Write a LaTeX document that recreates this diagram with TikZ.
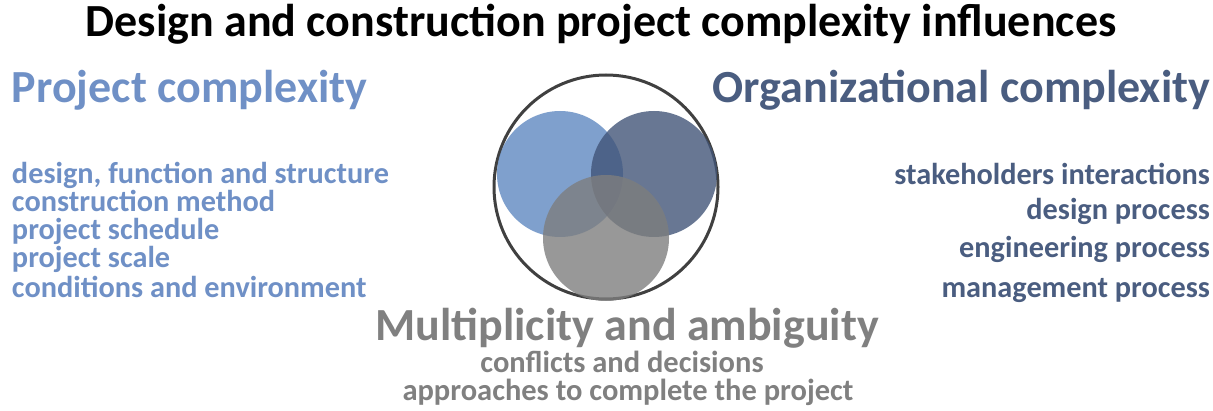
\documentclass[tikz,border=0pt]{standalone}
\usepackage{fontspec}
\setmainfont{Carlito}
\definecolor{pblue}{HTML}{6F90C6}
\definecolor{odark}{HTML}{4A5D80}
\definecolor{mgray}{HTML}{808080}
\definecolor{cblue}{HTML}{5F88C0}
\definecolor{cdark}{HTML}{425578}
\definecolor{cgray}{HTML}{7E7E7E}
\begin{document}
\begin{tikzpicture}[x=1pt,y=1pt,
  every node/.style={inner sep=0pt,outer sep=0pt},
  titletxt/.style={font=\fontsize{46}{48}\selectfont\bfseries},
  headtxt/.style={font=\fontsize{46}{48}\selectfont\bfseries},
  itemtxt/.style={font=\fontsize{30.3}{32}\selectfont\bfseries},
  subtxt/.style={font=\fontsize{30.5}{32}\selectfont\bfseries},
  venn/.style={circle,minimum size=126pt,fill opacity=0.8,draw=none}]
\useasboundingbox (0,0) rectangle (1213,410);
% title
\node[titletxt,anchor=base] (title) at (601,373) {Design and construction project complexity influences};
% outer circle and venn
\node[circle,minimum size=224pt,draw=black!75,line width=3pt] (outer) at (606,223) {};
\node[venn,fill=cblue] (vb) at (560,236) {};
\node[venn,fill=cdark] (vd) at (654,236) {};
\node[venn,fill=cgray] (vg) at (606,172) {};
% left
\node[headtxt,text=pblue,anchor=base west] (ph) at (12,307) {Project complexity};
\begin{scope}[every node/.append style={itemtxt,text=pblue,anchor=base west}]
\node (p1) at (12,226) {design, function and structure};
\node (p2) at (12,198) {construction method};
\node (p3) at (12,170) {project schedule};
\node (p4) at (12,142) {project scale};
\node (p5) at (12,113) {conditions and environment};
\end{scope}
% right
\node[headtxt,text=odark,anchor=base east] (oh) at (1210,307) {Organizational complexity};
\begin{scope}[every node/.append style={itemtxt,text=odark,anchor=base east}]
\node (o1) at (1210,225) {stakeholders interactions};
\node (o2) at (1210,190) {design process};
\node (o3) at (1210,152) {engineering process};
\node (o4) at (1210,113) {management process};
\end{scope}
% bottom
\node[headtxt,text=mgray,anchor=base] (mh) at (627,70) {Multiplicity and ambiguity};
\node[subtxt,text=mgray,anchor=base] (m1) at (622,38) {conflicts and decisions};
\node[subtxt,text=mgray,anchor=base] (m2) at (628,10) {approaches to complete the project};
\end{tikzpicture}
\end{document}
